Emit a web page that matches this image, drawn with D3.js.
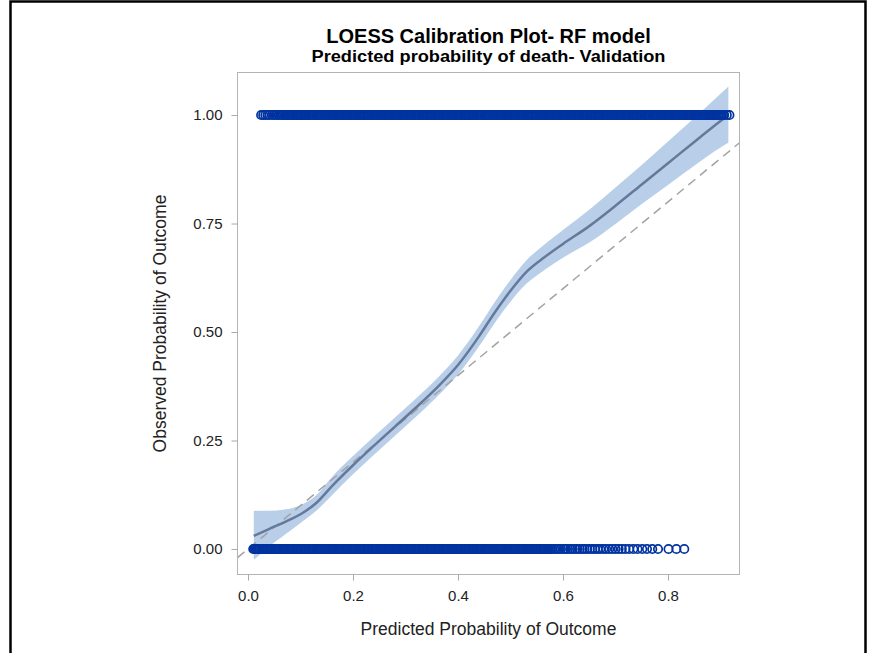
<!DOCTYPE html>
<html><head><meta charset="utf-8">
<script src="https://cdn.jsdelivr.net/npm/d3@7"></script>
<style>body{margin:0;background:#fff;} svg{display:block;font-family:"Liberation Sans",Arial,sans-serif;}</style>
</head><body><svg id="chart" width="870" height="653"></svg>
<script>
// ---- data ----
const titleText = "LOESS Calibration Plot- RF model";
const subtitleText = "Predicted probability of death- Validation";
const xAxisLabel = "Predicted Probability of Outcome";
const yAxisLabel = "Observed Probability of Outcome";
const xTicks = [0, 0.2, 0.4, 0.6, 0.8];
const yTicks = [0, 0.25, 0.5, 0.75, 1];

// predicted probabilities of patients who died (observed = 1)
const eventProbs = [0.025,0.029,0.033,0.037,0.041,0.046,0.050,0.054,0.058,0.061,0.064,0.067,
0.070,0.072,0.075,0.077,0.080,0.082,0.085,0.087,0.090,0.092,0.095,0.097,0.100,0.102,0.105,0.107,0.110,0.112,0.115,0.117,
0.120,0.122,0.125,0.127,0.130,0.132,0.135,0.137,0.140,0.142,0.145,0.147,0.150,0.152,0.155,0.157,0.160,0.162,0.165,0.167,
0.170,0.172,0.175,0.177,0.180,0.182,0.185,0.187,0.190,0.192,0.195,0.197,0.200,0.202,0.205,0.207,0.210,0.212,0.215,0.217,
0.220,0.222,0.225,0.227,0.230,0.232,0.235,0.237,0.240,0.242,0.245,0.247,0.250,0.252,0.255,0.257,0.260,0.262,0.265,0.267,
0.270,0.272,0.275,0.277,0.280,0.282,0.285,0.287,0.290,0.292,0.295,0.297,0.300,0.302,0.305,0.307,0.310,0.312,0.315,0.317,
0.320,0.322,0.325,0.327,0.330,0.332,0.335,0.337,0.340,0.342,0.345,0.347,0.350,0.352,0.355,0.357,0.360,0.362,0.365,0.367,
0.370,0.372,0.375,0.377,0.380,0.382,0.385,0.387,0.390,0.392,0.395,0.397,0.400,0.402,0.405,0.407,0.410,0.412,0.415,0.417,
0.420,0.422,0.425,0.427,0.430,0.432,0.435,0.437,0.440,0.442,0.445,0.447,0.450,0.452,0.455,0.457,0.460,0.462,0.465,0.467,
0.470,0.472,0.475,0.477,0.480,0.482,0.485,0.487,0.490,0.492,0.495,0.497,0.500,0.502,0.505,0.507,0.510,0.512,0.515,0.517,
0.520,0.522,0.525,0.527,0.530,0.532,0.535,0.537,0.540,0.542,0.545,0.547,0.550,0.552,0.555,0.557,0.560,0.562,0.565,0.567,
0.570,0.572,0.575,0.577,0.580,0.582,0.585,0.587,0.590,0.592,0.595,0.597,0.600,0.602,0.605,0.607,0.610,0.612,0.615,0.617,
0.620,0.622,0.625,0.627,0.630,0.632,0.635,0.637,0.640,0.642,0.645,0.647,0.650,0.652,0.655,0.657,0.660,0.662,0.665,0.667,
0.670,0.672,0.675,0.677,0.680,0.682,0.685,0.687,0.690,0.692,0.695,0.697,0.700,0.702,0.705,0.707,0.710,0.712,0.715,0.717,
0.720,0.722,0.725,0.727,0.730,0.732,0.735,0.737,0.740,0.742,0.745,0.747,0.750,0.752,0.755,0.757,0.760,0.762,0.765,0.767,
0.770,0.772,0.775,0.777,0.780,0.782,0.785,0.787,0.790,0.792,0.795,0.797,0.800,0.802,0.805,0.807,0.810,0.812,0.815,0.817,
0.820,0.822,0.825,0.827,0.830,0.832,0.835,0.837,0.840,0.842,0.845,0.847,0.850,0.852,0.855,0.857,0.860,0.862,0.865,0.867,
0.870,0.872,0.875,0.877,0.880,0.882,0.885,0.887,0.890,0.892,0.895,0.897,0.900,0.902,0.905,0.907,0.912,0.917];

// predicted probabilities of patients who survived (observed = 0)
const nonEventProbs = [0.010,0.012,0.014,0.016,0.018,
0.020,0.022,0.025,0.027,0.030,0.032,0.035,0.037,0.040,0.042,0.045,0.047,0.050,0.052,0.055,0.057,0.060,0.062,0.065,0.067,
0.070,0.072,0.075,0.077,0.080,0.082,0.085,0.087,0.090,0.092,0.095,0.097,0.100,0.102,0.105,0.107,0.110,0.112,0.115,0.117,
0.120,0.122,0.125,0.127,0.130,0.132,0.135,0.137,0.140,0.142,0.145,0.147,0.150,0.152,0.155,0.157,0.160,0.162,0.165,0.167,
0.170,0.172,0.175,0.177,0.180,0.182,0.185,0.187,0.190,0.192,0.195,0.197,0.200,0.202,0.205,0.207,0.210,0.212,0.215,0.217,
0.220,0.222,0.225,0.227,0.230,0.232,0.235,0.237,0.240,0.242,0.245,0.247,0.250,0.252,0.255,0.257,0.260,0.262,0.265,0.267,
0.270,0.272,0.275,0.277,0.280,0.282,0.285,0.287,0.290,0.292,0.295,0.297,0.300,0.302,0.305,0.307,0.310,0.312,0.315,0.317,
0.320,0.322,0.325,0.327,0.330,0.332,0.335,0.337,0.340,0.342,0.345,0.347,0.350,0.352,0.355,0.357,0.360,0.362,0.365,0.367,
0.370,0.372,0.375,0.377,0.380,0.382,0.385,0.387,0.390,0.392,0.395,0.397,0.400,0.402,0.405,0.407,0.410,0.412,0.415,0.417,
0.420,0.422,0.425,0.427,0.430,0.432,0.435,0.437,0.440,0.442,0.445,0.447,0.450,0.452,0.455,0.457,0.460,0.462,0.465,0.467,
0.470,0.472,0.475,0.477,0.480,0.482,0.485,0.487,0.490,0.492,0.495,0.497,0.500,0.502,0.505,0.507,0.510,0.512,0.515,0.517,
0.520,0.522,0.525,0.527,0.530,0.532,0.535,0.537,0.540,0.542,0.545,0.547,0.550,0.552,0.555,0.557,0.560,0.562,0.565,0.567,
0.570,0.572,0.575,0.577,0.580,
0.584,0.588,0.592,0.596,0.601,0.605,0.609,0.614,0.618,0.623,0.627,0.632,0.637,0.641,0.646,0.651,0.656,0.661,0.666,0.671,
0.677,0.682,0.688,0.694,0.700,0.706,0.712,0.719,0.726,
0.734,0.742,0.751,0.760,0.770,0.781,0.801,0.816,0.831];

// LOESS fit and its confidence band
const loessX     = [0.011,0.040,0.070,0.100,0.130,0.160,0.200,0.240,0.280,0.320,0.360,0.400,0.440,0.470,0.500,0.530,0.560,0.600,0.650,0.700,0.750,0.800,0.850,0.900,0.915];
const loessY     = [0.030,0.046,0.062,0.080,0.106,0.145,0.193,0.238,0.282,0.326,0.372,0.424,0.490,0.545,0.595,0.638,0.668,0.703,0.744,0.791,0.840,0.889,0.938,0.986,1.000];
const loessLower = [-0.025,0.006,0.033,0.060,0.088,0.124,0.172,0.217,0.261,0.305,0.351,0.402,0.467,0.521,0.570,0.611,0.639,0.671,0.706,0.749,0.795,0.839,0.883,0.925,0.936];
const loessUpper = [0.088,0.088,0.091,0.101,0.124,0.166,0.214,0.259,0.303,0.347,0.393,0.446,0.513,0.569,0.620,0.665,0.697,0.735,0.782,0.833,0.885,0.939,0.993,1.049,1.066];

// ---- drawing ----
const svg = d3.select("#chart");
const L = 237.5, R = 739.5, T = 72.5, B = 574.5;
const x = d3.scaleLinear().domain([-0.0200, 0.9362]).range([L, R]);
const y = d3.scaleLinear().domain([-0.0588, 1.0980]).range([B, T]);

// outer black frame of the screenshot
svg.append("path").attr("d", "M10.5,653V1.5H865.5V653")
  .attr("fill", "none").attr("stroke", "#000").attr("stroke-width", 2.5);

svg.append("defs").append("clipPath").attr("id", "clip")
  .append("rect").attr("x", L).attr("y", T).attr("width", R - L).attr("height", B - T);

const plot = svg.append("g").attr("clip-path", "url(#clip)");

const bandData = loessX.map((v, i) => ({x: v, y: loessY[i], lo: loessLower[i], hi: loessUpper[i]}));

plot.append("path").datum(bandData)
  .attr("d", d3.area().x(d => x(d.x)).y0(d => y(d.lo)).y1(d => y(d.hi)).curve(d3.curveMonotoneX))
  .attr("fill", "#b9cee8");

// reference diagonal
const diag = [x.domain()[0], x.domain()[1]];
plot.append("line")
  .attr("x1", x(diag[0])).attr("y1", y(diag[0]))
  .attr("x2", x(diag[1])).attr("y2", y(diag[1]))
  .attr("stroke", "#a3a3a3").attr("stroke-width", 1.5).attr("stroke-dasharray", "9,6");

plot.append("path").datum(bandData)
  .attr("d", d3.line().x(d => x(d.x)).y(d => y(d.y)).curve(d3.curveMonotoneX))
  .attr("fill", "none").attr("stroke", "#65799a").attr("stroke-width", 2.5);

const pts = nonEventProbs.map(p => ({p, o: 0})).concat(eventProbs.map(p => ({p, o: 1})));
plot.append("g").selectAll("circle").data(pts).join("circle")
  .attr("cx", d => x(d.p)).attr("cy", d => y(d.o)).attr("r", 4.2)
  .attr("fill", "none").attr("stroke", "#0033a0").attr("stroke-width", 1.7);

// wall frame
svg.append("rect").attr("x", L).attr("y", T).attr("width", R - L).attr("height", B - T)
  .attr("fill", "none").attr("stroke", "#b4b4b4").attr("stroke-width", 1);

// axes
const xAxis = svg.append("g").attr("transform", `translate(0,${B})`)
  .call(d3.axisBottom(x).tickValues(xTicks).tickFormat(d3.format(".1f")).tickSize(6).tickPadding(10));
const yAxis = svg.append("g").attr("transform", `translate(${L},0)`)
  .call(d3.axisLeft(y).tickValues(yTicks).tickFormat(d3.format(".2f")).tickSize(6).tickPadding(9));
[xAxis, yAxis].forEach(a => {
  a.select(".domain").remove();
  a.selectAll(".tick line").attr("stroke", "#a8a8a8");
  a.selectAll(".tick text").attr("fill", "#222").style("font-size", "15px")
    .style("font-family", '"Liberation Sans",Arial,sans-serif');
});
xAxis.selectAll(".tick text").attr("dy", "0.71em");

// titles
const cx = (L + R) / 2;
svg.append("text").attr("x", cx).attr("y", 43).attr("text-anchor", "middle")
  .style("font-size", "20px").style("font-weight", "bold").attr("fill", "#000").text(titleText);
svg.append("text").attr("x", cx).attr("y", 62).attr("text-anchor", "middle")
  .attr("textLength", 354).attr("lengthAdjust", "spacingAndGlyphs")
  .style("font-size", "16px").style("font-weight", "bold").attr("fill", "#000").text(subtitleText);
svg.append("text").attr("x", cx).attr("y", 635).attr("text-anchor", "middle")
  .style("font-size", "17.5px").attr("fill", "#222").text(xAxisLabel);
svg.append("text").attr("transform", `translate(166,${(T + B) / 2}) rotate(-90)`)
  .attr("text-anchor", "middle")
  .style("font-size", "17.5px").attr("fill", "#222").text(yAxisLabel);
</script>
</body></html>
